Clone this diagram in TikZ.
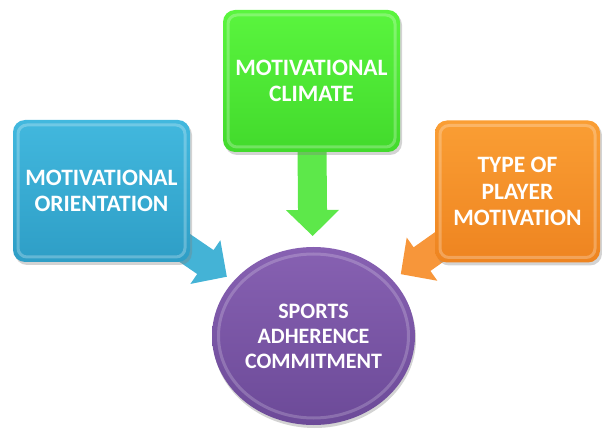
\documentclass[tikz,border=0pt]{standalone}
\usepackage{fontspec}
\setmainfont{Carlito}
\usetikzlibrary{calc,shapes.geometric,shadows,backgrounds}
\definecolor{blueT}{HTML}{42B8DE}
\definecolor{blueB}{HTML}{2E9EC6}
\definecolor{blueA}{HTML}{44B3D6}
\definecolor{greenT}{HTML}{5AF53E}
\definecolor{greenB}{HTML}{42DA2C}
\definecolor{greenA}{HTML}{5DE84A}
\definecolor{orangeT}{HTML}{FA9E34}
\definecolor{orangeB}{HTML}{EE8420}
\definecolor{orangeA}{HTML}{F7963A}
\definecolor{purpleT}{HTML}{8761B2}
\definecolor{purpleB}{HTML}{6C4A98}
\newcommand{\myblockarrow}[4]{%
  \coordinate (T) at ($(#2)!#3!(#1)$);
  \coordinate (H) at ($(T)!26pt!(#1)$);
  \fill[#4] ($(#1)!14.5pt!90:(T)$) -- ($(H)!14.5pt!90:(T)$) -- ($(H)!26.5pt!90:(T)$)
    -- (T) -- ($(H)!26.5pt!-90:(T)$) -- ($(H)!14.5pt!-90:(T)$) -- ($(#1)!14.5pt!-90:(T)$) -- cycle;
}
\tikzset{
  labeltext/.style={text=white, align=center, font=\fontsize{22}{25}\selectfont\bfseries},
  boxnode/.style={labeltext, font=\fontsize{23.5}{26.5}\selectfont\bfseries,
    rounded corners=12pt, inner sep=0pt,
    minimum width=177pt, minimum height=142pt,
    drop shadow={opacity=0.35, shadow xshift=2pt, shadow yshift=-3pt},
    path picture={\draw[white, opacity=0.25, line width=3pt, rounded corners=9pt]
      ([shift={(5pt,-5pt)}]path picture bounding box.north west) rectangle
      ([shift={(-5pt,5pt)}]path picture bounding box.south east);}},
}
\begin{document}
\begin{tikzpicture}[x=1pt,y=-1pt]
\useasboundingbox (0,0) rectangle (602,430);
\node[boxnode, top color=blueT, bottom color=blueB] (orient) at (101.5,191) {MOTIVATIONAL\\ORIENTATION};
\node[boxnode, top color=greenT, bottom color=greenB] (climate) at (311.5,81) {MOTIVATIONAL\\CLIMATE};
\node[boxnode, minimum width=165pt, top color=orangeT, bottom color=orangeB] (type) at (517.5,191.5) {TYPE OF\\PLAYER\\MOTIVATION};
\node[labeltext, ellipse, inner sep=0pt, minimum width=203pt, minimum height=178pt,
  top color=purpleT, bottom color=purpleB,
  drop shadow={opacity=0.35, shadow xshift=1pt, shadow yshift=-3pt},
  path picture={\draw[white, opacity=0.2, line width=3pt]
    ($(path picture bounding box.center)$) ellipse [x radius=95pt, y radius=82pt];}]
  (sac) at (313.5,336) {SPORTS\\ADHERENCE\\COMMITMENT};
\begin{scope}[on background layer]
  \myblockarrow{orient.center}{sac.center}{105pt}{blueA}
  \myblockarrow{climate.center}{sac.center}{100pt}{greenA}
  \myblockarrow{type.center}{sac.center}{107pt}{orangeA}
\end{scope}
\end{tikzpicture}
\end{document}
